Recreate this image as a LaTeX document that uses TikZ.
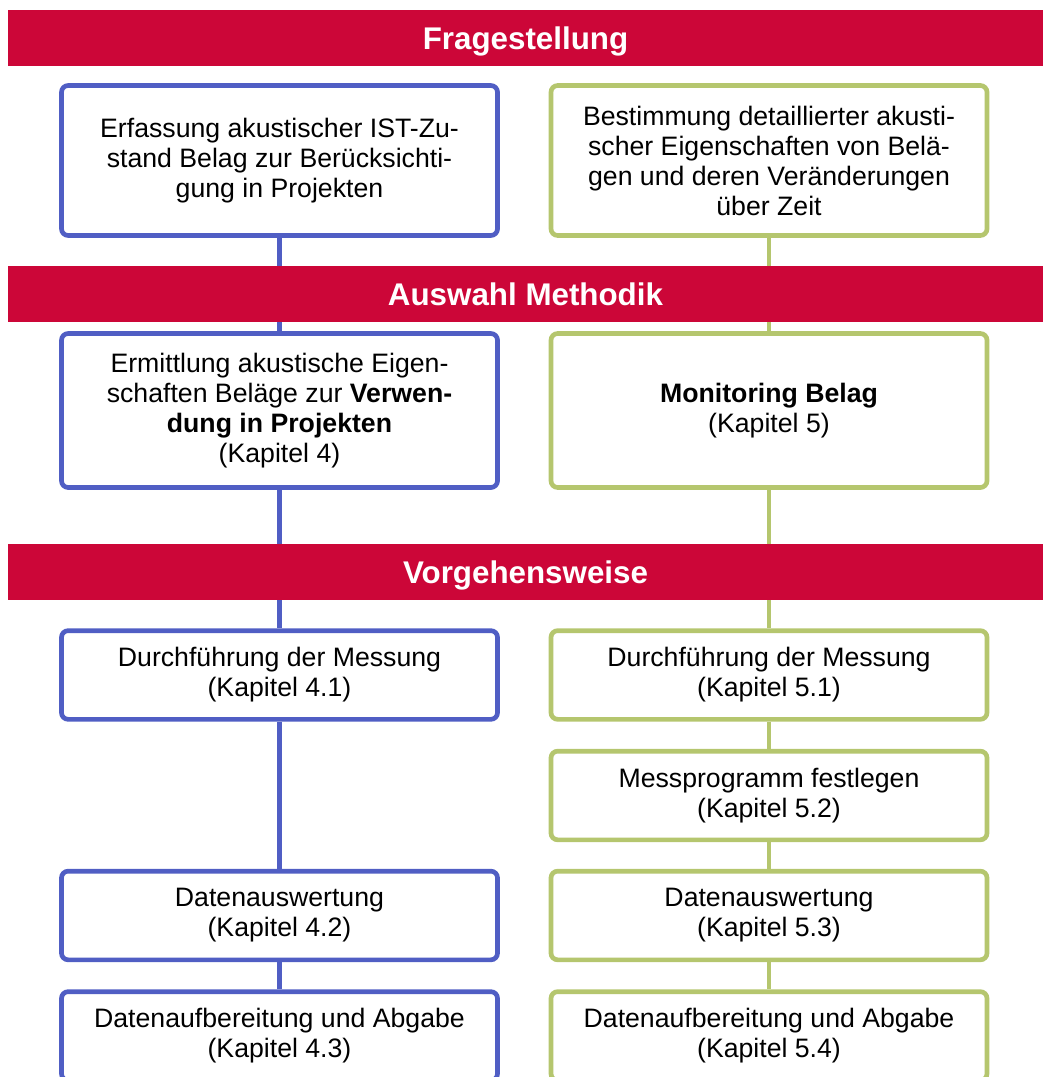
\documentclass[tikz,border=0pt]{standalone}
\usepackage{fontspec}
\setmainfont{Liberation Sans}
\definecolor{bannerred}{RGB}{204,6,56}
\definecolor{pathblue}{RGB}{80,94,196}
\definecolor{pathgreen}{RGB}{181,198,110}
\begin{document}
\begin{tikzpicture}[x=0.75pt,y=0.75pt,yscale=-1,xscale=1,
  banner/.style={fill=bannerred,text=white,inner sep=0pt,minimum width=776.25pt,minimum height=42pt,text height=16.9pt,text depth=0pt,font=\bfseries\fontsize{23.5}{28}\selectfont},
  box/.style={draw,line width=3.5pt,rounded corners=5pt,fill=white,align=center,inner sep=0pt,minimum width=327pt,font=\fontsize{20}{22.5}\selectfont},
  bluebox/.style={box,draw=pathblue},
  greenbox/.style={box,draw=pathgreen},
  link/.style={line width=3.7pt}]
\useasboundingbox (0,0) rectangle (1043,1077);
\clip (0,0) rectangle (1043,1077);

% left path
\node [bluebox,minimum height=112.5pt] (erfassung) at (279.5,160.5) {Erfassung akustischer IST-Zu-\\stand Belag zur Berücksichti-\\gung in Projekten};
\node [bluebox,minimum height=115.5pt] (ermittlung) at (279.5,410.5) {Ermittlung akustische Eigen-\\schaften Beläge zur \textbf{Verwen-}\\\textbf{dung in Projekten}\\(Kapitel 4)};
\node [bluebox,minimum height=66.5pt] (messungL) at (279.5,675) {Durchführung der Messung\\(Kapitel 4.1)};
\node [bluebox,minimum height=66.5pt] (auswertungL) at (279.5,915.5) {Datenauswertung\\(Kapitel 4.2)};
\node [bluebox,minimum height=66.5pt] (abgabeL) at (279.5,1036) {Datenaufbereitung und Abgabe\\(Kapitel 4.3)};

% right path
\node [greenbox,minimum height=112.5pt] (bestimmung) at (769,160.5) {Bestimmung detaillierter akusti-\\scher Eigenschaften von Belä-\\gen und deren Veränderungen\\über Zeit};
\node [greenbox,minimum height=115.5pt] (monitoring) at (769,410.5) {\textbf{Monitoring Belag}\\(Kapitel 5)};
\node [greenbox,minimum height=66.5pt] (messungR) at (769,675) {Durchführung der Messung\\(Kapitel 5.1)};
\node [greenbox,minimum height=66.5pt] (programm) at (769,795.5) {Messprogramm festlegen\\(Kapitel 5.2)};
\node [greenbox,minimum height=66.5pt] (auswertungR) at (769,915.5) {Datenauswertung\\(Kapitel 5.3)};
\node [greenbox,minimum height=66.5pt] (abgabeR) at (769,1036) {Datenaufbereitung und Abgabe\\(Kapitel 5.4)};

% connectors
\draw [link,pathblue] (erfassung) -- (ermittlung);
\draw [link,pathblue] (ermittlung) -- (messungL);
\draw [link,pathblue] (messungL) -- (auswertungL);
\draw [link,pathblue] (auswertungL) -- (abgabeL);
\draw [link,pathgreen] (bestimmung) -- (monitoring);
\draw [link,pathgreen] (monitoring) -- (messungR);
\draw [link,pathgreen] (messungR) -- (programm);
\draw [link,pathgreen] (programm) -- (auswertungR);
\draw [link,pathgreen] (auswertungR) -- (abgabeR);

% banners
\node [banner] (frage) at (525.5,38) {Fragestellung};
\node [banner] (methodik) at (525.5,294) {Auswahl Methodik};
\node [banner] (vorgehen) at (525.5,572) {Vorgehensweise};

\end{tikzpicture}
\end{document}
